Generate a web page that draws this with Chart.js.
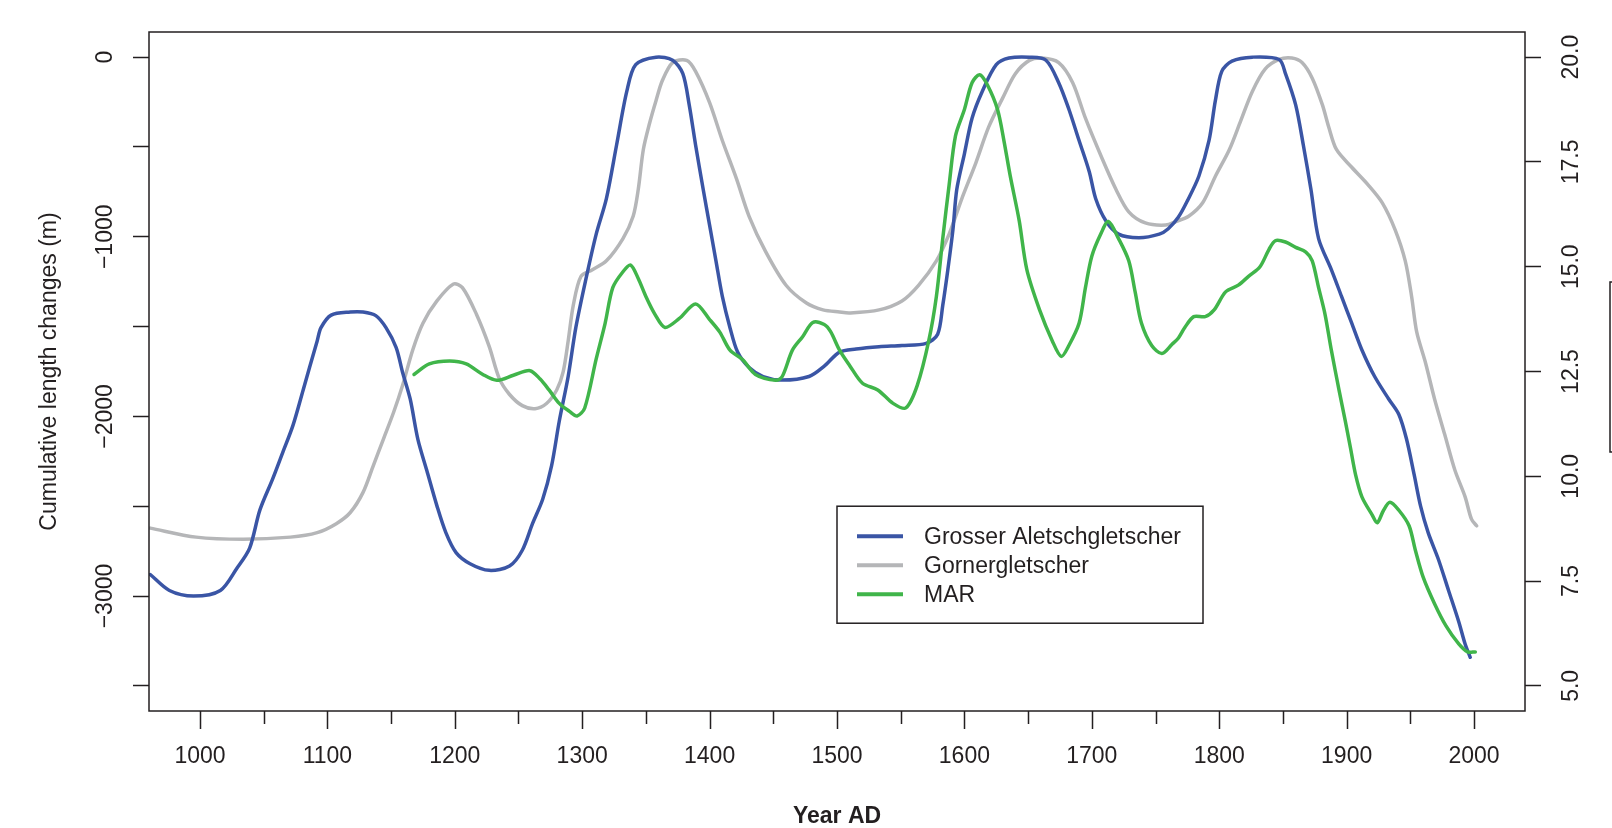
<!DOCTYPE html>
<html>
<head>
<meta charset="utf-8">
<title>Cumulative length changes</title>
<script src="https://cdn.jsdelivr.net/npm/chart.js@4.4.1/dist/chart.umd.min.js"></script>
<style>
  html, body { margin: 0; padding: 0; background: #fff; }
  #chart { display: block; }
</style>
</head>
<body>
<canvas id="chart" width="1612" height="828"></canvas>
<script>
// Grosser Aletschgletscher, cumulative length change (m)
const aletschYear = [961, 976, 995, 1016, 1029, 1039, 1047, 1057, 1065, 1073, 1081, 1086, 1092, 1095, 1103, 1118,
  1128, 1138, 1146, 1154, 1159, 1165, 1171, 1178, 1186, 1193, 1201, 1212, 1227, 1243, 1253, 1261, 1269, 1276,
  1282, 1289, 1295, 1303, 1311, 1319, 1327, 1335, 1342, 1358, 1371, 1379, 1384, 1389, 1395, 1400, 1405, 1410,
  1416, 1422, 1431, 1442, 1457, 1478, 1490, 1502, 1515, 1533, 1551, 1570, 1579, 1583, 1587, 1591, 1594, 1600,
  1606, 1614, 1625, 1635, 1651, 1664, 1674, 1682, 1690, 1698, 1703, 1711, 1721, 1737, 1753, 1760, 1768, 1775,
  1784, 1792, 1797, 1802, 1810, 1826, 1847, 1852, 1860, 1866, 1872, 1878, 1888, 1896, 1904, 1912, 1922, 1933,
  1941, 1947, 1953, 1958, 1964, 1972, 1980, 1988, 1993, 1997];
const aletschLength = [-2880, -2969, -3000, -2969, -2845, -2733, -2522, -2349, -2200, -2050, -1853, -1728, -1580,
  -1506, -1436, -1419, -1419, -1439, -1506, -1617, -1754, -1903, -2126, -2300, -2498, -2647, -2758, -2820, -2857,
  -2833, -2745, -2597, -2461, -2274, -2027, -1778, -1506, -1233, -985, -787, -489, -191, -42, 0, -17, -92, -266,
  -489, -737, -935, -1134, -1332, -1506, -1642, -1728, -1778, -1798, -1778, -1720, -1642, -1625, -1612, -1605,
  -1593, -1543, -1382, -1183, -960, -737, -538, -340, -191, -42, -5, 0, -17, -142, -290, -464, -638, -787, -911,
  -985, -1005, -985, -955, -890, -800, -663, -464, -241, -79, -22, 0, -13, -92, -266, -489, -737, -1010, -1183,
  -1332, -1481, -1630, -1778, -1903, -1989, -2126, -2324, -2498, -2647, -2795, -2969, -3143, -3267, -3341];

// Gornergletscher, cumulative length change (m)
const gornerYear = [961, 997, 1034, 1071, 1092, 1107, 1118, 1128, 1136, 1144, 1152, 1159, 1167, 1175, 1186, 1199,
  1206, 1217, 1227, 1235, 1243, 1253, 1263, 1272, 1280, 1285, 1289, 1293, 1299, 1308, 1319, 1332, 1340, 1344,
  1348, 1353, 1358, 1363, 1371, 1382, 1389, 1400, 1410, 1421, 1431, 1444, 1460, 1476, 1489, 1502, 1510, 1533,
  1551, 1564, 1578, 1588, 1598, 1609, 1619, 1630, 1640, 1651, 1661, 1674, 1685, 1695, 1708, 1719, 1729, 1742,
  1758, 1766, 1776, 1787, 1797, 1808, 1817, 1826, 1836, 1847, 1857, 1865, 1873, 1881, 1886, 1892, 1904, 1917,
  1928, 1938, 1946, 1951, 1955, 1962, 1969, 1977, 1985, 1993, 1998, 2002];
const gornerLength = [-2622, -2672, -2684, -2672, -2647, -2597, -2535, -2423, -2275, -2126, -1977, -1828, -1630,
  -1481, -1357, -1263, -1283, -1431, -1610, -1790, -1878, -1940, -1957, -1928, -1853, -1754, -1580, -1382, -1221,
  -1183, -1134, -1010, -886, -737, -514, -365, -241, -129, -30, -18, -79, -253, -464, -675, -886, -1083, -1270,
  -1369, -1407, -1419, -1424, -1407, -1357, -1270, -1134, -985, -787, -588, -390, -228, -92, -18, -5, -30, -142,
  -340, -563, -737, -861, -923, -935, -915, -886, -811, -663, -514, -352, -191, -67, -13, -5, -30, -117, -266,
  -390, -514, -613, -712, -811, -960, -1134, -1332, -1530, -1704, -1903, -2101, -2300, -2448, -2572, -2609];

// MAR (right axis)
const marYear = [1168, 1180, 1196, 1209, 1222, 1233, 1246, 1259, 1267, 1274, 1282, 1290, 1296, 1302, 1311, 1318,
  1324, 1332, 1338, 1344, 1350, 1357, 1365, 1376, 1389, 1400, 1408, 1416, 1426, 1436, 1452, 1457, 1465, 1473,
  1481, 1490, 1495, 1502, 1510, 1520, 1532, 1544, 1554, 1563, 1572, 1578, 1583, 1588, 1593, 1600, 1606, 1612,
  1618, 1626, 1631, 1636, 1643, 1649, 1659, 1669, 1676, 1682, 1690, 1695, 1700, 1707, 1713, 1721, 1729, 1734,
  1739, 1747, 1755, 1763, 1768, 1773, 1780, 1789, 1796, 1805, 1815, 1823, 1832, 1839, 1844, 1852, 1860, 1868,
  1873, 1878, 1883, 1888, 1894, 1899, 1903, 1907, 1912, 1920, 1924, 1929, 1934, 1941, 1949, 1954, 1960, 1969,
  1978, 1988, 1995, 2001];
const marValue = [12.43, 12.68, 12.75, 12.68, 12.43, 12.29, 12.41, 12.52, 12.32, 12.06, 11.74, 11.55, 11.44, 11.63,
  12.80, 13.65, 14.50, 14.88, 15.04, 14.72, 14.29, 13.87, 13.55, 13.76, 14.11, 13.74, 13.44, 13.01, 12.78, 12.43,
  12.29, 12.38, 13.01, 13.33, 13.67, 13.62, 13.45, 13.01, 12.64, 12.22, 12.06, 11.74, 11.63, 12.17, 13.23, 14.29,
  15.67, 16.95, 18.12, 18.75, 19.39, 19.58, 19.34, 18.75, 18.01, 17.16, 16.10, 14.93, 13.97, 13.23, 12.86, 13.12,
  13.65, 14.50, 15.25, 15.78, 16.08, 15.67, 15.14, 14.40, 13.65, 13.12, 12.93, 13.15, 13.30, 13.55, 13.81, 13.81,
  13.97, 14.40, 14.56, 14.77, 15.00, 15.41, 15.62, 15.59, 15.46, 15.35, 15.14, 14.50, 13.87, 13.01, 12.06, 11.31,
  10.68, 10.04, 9.51, 9.08, 8.89, 9.19, 9.38, 9.19, 8.82, 8.23, 7.60, 6.96, 6.43, 6.00, 5.81, 5.81];

// axis ticks
const xTicks = [1000, 1050, 1100, 1150, 1200, 1250, 1300, 1350, 1400, 1450, 1500,
  1550, 1600, 1650, 1700, 1750, 1800, 1850, 1900, 1950, 2000];
const leftTicks = [-3500, -3000, -2500, -2000, -1500, -1000, -500, 0];
const rightTicks = [5, 7.5, 10, 12.5, 15, 17.5, 20];

const FONT = '"Liberation Sans", Arial, Helvetica, sans-serif';
const INK = '#231f20';

function toPoints(xs, ys) {
    return xs.map((x, i) => ({ x: x, y: ys[i] }));
}

// frame, x tick marks and the legend, drawn the way R does it
const framePlugin = {
    id: 'frame',
    afterDatasetsDraw(chart) {
        const { ctx, chartArea: a, scales } = chart;
        ctx.save();
        ctx.strokeStyle = INK;
        ctx.lineWidth = 1.5;
        ctx.strokeRect(a.left, a.top, a.right - a.left, a.bottom - a.top);

        ctx.beginPath();
        xTicks.forEach(v => {
            const px = Math.round(scales.x.getPixelForValue(v)) + 0.5;
            const len = v % 100 === 0 ? 18 : 13;
            ctx.moveTo(px, a.bottom);
            ctx.lineTo(px, a.bottom + len);
        });
        ctx.stroke();

        // legend box anchored at (1500, -2500)
        const lx = scales.x.getPixelForValue(1500);
        const ly = scales.y.getPixelForValue(-2500);
        ctx.fillStyle = '#fff';
        ctx.fillRect(lx, ly, 366, 117);
        ctx.strokeRect(lx, ly, 366, 117);
        ctx.font = '23px ' + FONT;
        ctx.textBaseline = 'middle';
        ctx.textAlign = 'left';
        chart.data.datasets.forEach((ds, i) => {
            const y = ly + 30 + i * 29;
            ctx.strokeStyle = ds.borderColor;
            ctx.lineWidth = 4;
            ctx.beginPath();
            ctx.moveTo(lx + 20, y);
            ctx.lineTo(lx + 66, y);
            ctx.stroke();
            ctx.fillStyle = INK;
            ctx.fillText(ds.label, lx + 87, y + 1);
        });

        // edge of a second legend box that is cut off at the right border
        ctx.strokeStyle = INK;
        ctx.lineWidth = 1.5;
        ctx.beginPath();
        ctx.moveTo(chart.width, 282);
        ctx.lineTo(1610, 282);
        ctx.lineTo(1610, 452);
        ctx.lineTo(chart.width, 452);
        ctx.stroke();
        ctx.restore();
    }
};

const tickFont = { family: FONT, size: 23 };

new Chart(document.getElementById('chart'), {
    type: 'line',
    data: {
        datasets: [
            {
                label: 'Grosser Aletschgletscher',
                data: toPoints(aletschYear, aletschLength),
                borderColor: '#3a55a5',
                yAxisID: 'y',
                order: 1
            },
            {
                label: 'Gornergletscher',
                data: toPoints(gornerYear, gornerLength),
                borderColor: '#b5b6b8',
                yAxisID: 'y',
                order: 2
            },
            {
                label: 'MAR',
                data: toPoints(marYear, marValue),
                borderColor: '#40b54a',
                yAxisID: 'y2',
                order: 0
            }
        ]
    },
    options: {
        responsive: false,
        animation: false,
        devicePixelRatio: 1,
        layout: { padding: { top: 32, left: 0, right: 0, bottom: 0 } },
        plugins: { legend: { display: false }, tooltip: { enabled: false } },
        elements: {
            point: { radius: 0 },
            line: { borderWidth: 3.5, tension: 0.3, borderJoinStyle: 'round', borderCapStyle: 'round', fill: false }
        },
        datasets: { line: { clip: 0 } },
        scales: {
            x: {
                type: 'linear',
                position: 'bottom',
                min: 960,
                max: 2040,
                afterBuildTicks: s => { s.ticks = xTicks.map(v => ({ value: v })); },
                afterFit: s => { s.height = 117; },
                grid: { display: false, drawTicks: false, tickLength: 0 },
                border: { display: false },
                ticks: {
                    autoSkip: false, minRotation: 0, maxRotation: 0, padding: 32,
                    color: INK, font: tickFont,
                    callback: v => v % 100 === 0 ? String(v) : ''
                },
                title: {
                    display: true, text: 'Year AD', color: INK,
                    font: { family: FONT, size: 23, weight: 'bold', lineHeight: 1 },
                    padding: { top: 0, bottom: 0 }
                }
            },
            y: {
                position: 'left',
                min: -3640,
                max: 140,
                afterBuildTicks: s => { s.ticks = leftTicks.map(v => ({ value: v })); },
                afterFit: s => { s.width = 149; },
                grid: { drawOnChartArea: false, drawTicks: true, tickLength: 16, tickColor: INK, tickWidth: 1.5 },
                border: { display: false },
                ticks: {
                    autoSkip: false, minRotation: 90, maxRotation: 90, crossAlign: 'center', padding: -5,
                    color: INK, font: tickFont,
                    callback: v => v % 1000 === 0 ? (v < 0 ? '\u2212' + (-v) : String(v)) : ''
                },
                title: {
                    display: true, text: 'Cumulative length changes (m)', color: INK,
                    font: { family: FONT, size: 23 },
                    padding: { top: 36, bottom: 0 }
                }
            },
            y2: {
                position: 'right',
                min: 4.4,
                max: 20.6,
                afterBuildTicks: s => { s.ticks = rightTicks.map(v => ({ value: v })); },
                afterFit: s => { s.width = 87; },
                grid: { drawOnChartArea: false, drawTicks: true, tickLength: 16, tickColor: INK, tickWidth: 1.5 },
                border: { display: false },
                ticks: {
                    autoSkip: false, minRotation: 90, maxRotation: 90, crossAlign: 'center', padding: 8,
                    color: INK, font: tickFont,
                    callback: v => v.toFixed(1)
                }
            }
        }
    },
    plugins: [framePlugin]
});
</script>
</body>
</html>
